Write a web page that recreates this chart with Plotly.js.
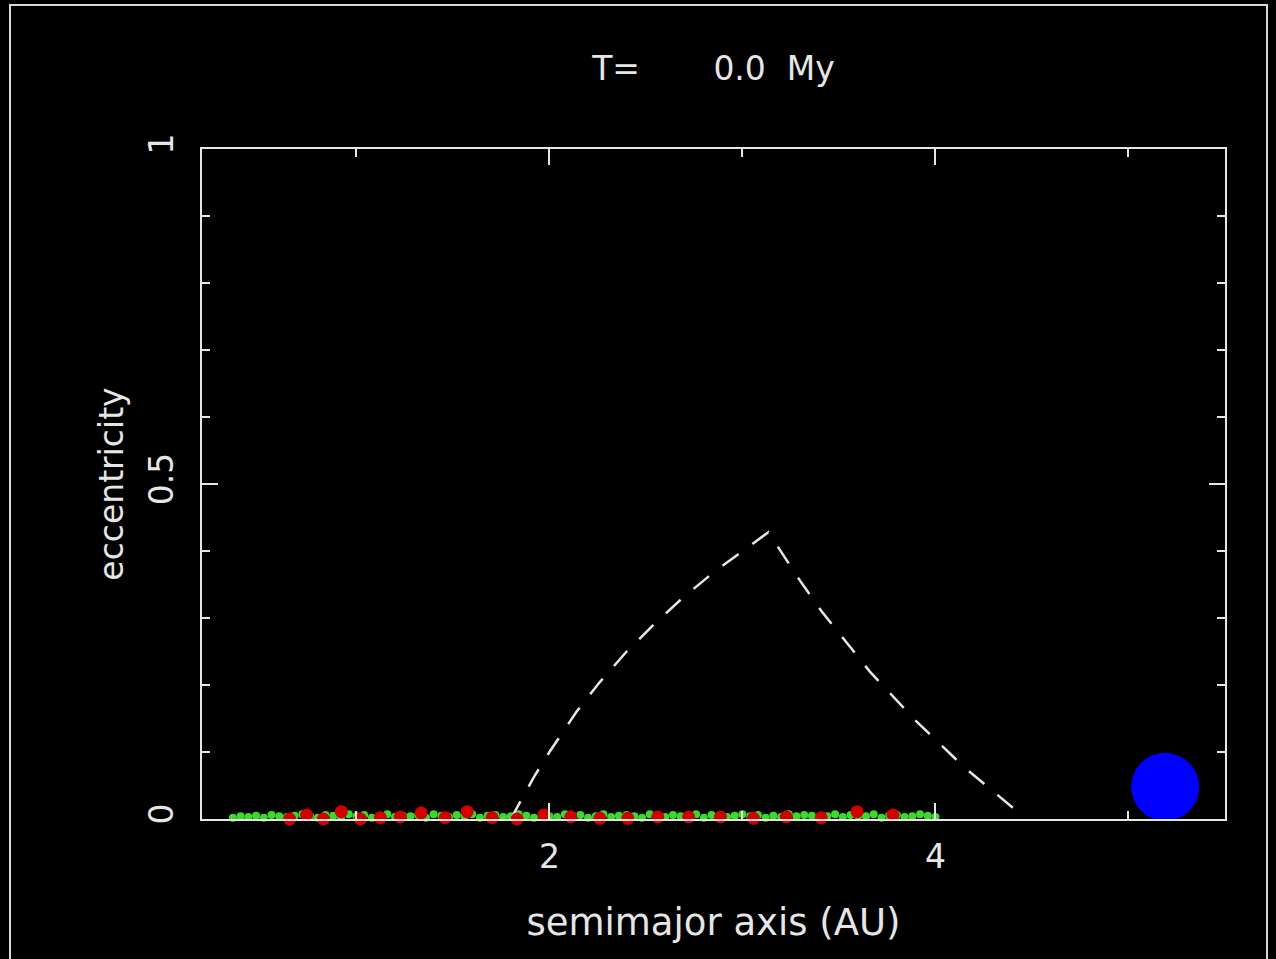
<!DOCTYPE html>
<html>
<head>
<meta charset="utf-8">
<script src="https://cdn.plot.ly/plotly-3.0.1.min.js"></script>
<style>
  html, body { margin: 0; padding: 0; background: #000; }
  #chart { width: 1276px; height: 959px; }
  #frame { position: absolute; left: 9px; top: 4px; width: 1259px; height: 970px;
           border: 2px solid #d8d8d8; pointer-events: none; box-sizing: border-box; }
</style>
</head>
<body>
<div id="chart"></div>
<div id="frame"></div>
<script>
// ---- data ----
const titleText = "T=\u00a0\u00a0\u00a0\u00a0\u00a0\u00a0\u00a00.0\u00a0\u00a0My";
const xTickVals = [2, 4];
const xTickText = ["2", "4"];
const yTickVals = [0, 0.5, 1];
const yTickText = ["0", "0.5", "1"];

// crossing-boundary curve (dashed)
const curveA = [1.80, 1.86, 1.92, 2.00, 2.07, 2.14, 2.26, 2.40, 2.54, 2.69, 2.85, 3.02, 3.134, 3.30, 3.41, 3.66, 3.90, 4.15, 4.45];
const curveE = [0.000, 0.032, 0.063, 0.100, 0.131, 0.160, 0.204, 0.250, 0.290, 0.330, 0.368, 0.404, 0.428, 0.355, 0.310, 0.220, 0.146, 0.077, 0.005];

// test particles (green)
const greenA = [0.36,0.40,0.44,0.48,0.52,0.56,0.60,0.64,0.68,0.72,0.76,0.80,0.84,0.88,0.92,0.96,1.00,1.04,1.08,1.12,
  1.16,1.20,1.24,1.28,1.32,1.36,1.40,1.44,1.48,1.52,1.56,1.60,1.64,1.68,1.72,1.76,1.80,1.84,1.88,1.92,
  1.96,2.00,2.04,2.08,2.12,2.16,2.20,2.24,2.28,2.32,2.36,2.40,2.44,2.48,2.52,2.56,2.60,2.64,2.68,2.72,
  2.76,2.80,2.84,2.88,2.92,2.96,3.00,3.04,3.08,3.12,3.16,3.20,3.24,3.28,3.32,3.36,3.40,3.44,3.48,3.52,
  3.56,3.60,3.64,3.68,3.72,3.76,3.80,3.84,3.88,3.92,3.96,4.00];
const greenE = [0.002,0.004,0.003,0.005,0.002,0.006,0.004,0.003,0.005,0.007,0.004,0.002,0.006,0.005,0.003,0.007,0.004,0.006,0.002,0.005,
  0.007,0.003,0.005,0.004,0.006,0.002,0.007,0.005,0.003,0.006,0.004,0.007,0.002,0.005,0.006,0.003,0.004,0.007,0.005,0.002,
  0.006,0.004,0.003,0.007,0.005,0.006,0.002,0.004,0.007,0.003,0.005,0.006,0.004,0.002,0.007,0.005,0.003,0.006,0.004,0.005,
  0.007,0.002,0.006,0.004,0.003,0.005,0.007,0.004,0.006,0.002,0.005,0.003,0.007,0.004,0.006,0.005,0.002,0.004,0.007,0.003,
  0.006,0.005,0.004,0.007,0.002,0.005,0.006,0.003,0.004,0.007,0.005,0.003];

// embryos (red)
const redA = [0.654,0.742,0.829,0.922,1.021,1.124,1.227,1.336,1.460,1.574,1.703,1.832,1.972,2.111,2.261,2.406,2.561,2.721,2.886,3.057,3.227,3.408,3.594,3.780];
const redE = [0.000,0.006,0.000,0.011,0.000,0.002,0.003,0.009,0.002,0.011,0.002,0.000,0.006,0.003,0.001,0.001,0.003,0.003,0.003,0.001,0.003,0.002,0.011,0.006];

// giant planet (blue)
const planetA = [5.19];
const planetE = [0.048];

// ---- traces ----
const traces = [
  { x: greenA, y: greenE, type: 'scatter', mode: 'markers', cliponaxis: false,
    marker: { symbol: 'circle', size: 8, color: '#3cd82a', line: { width: 0 } }, hoverinfo: 'skip' },
  { x: curveA, y: curveE, type: 'scatter', mode: 'lines', cliponaxis: false,
    line: { color: '#e6e6e6', width: 2.5, dash: '20px,17px', shape: 'linear' } },
  { x: redA, y: redE, type: 'scatter', mode: 'markers', cliponaxis: false,
    marker: { symbol: 'circle', size: 13, color: '#d40000', line: { width: 0 } } },
  { x: planetA, y: planetE, type: 'scatter', mode: 'markers', cliponaxis: false,
    marker: { symbol: 'circle', size: 68, color: '#0000ff', line: { width: 0 } } }
];

const fontFam = '"DejaVu Sans", "Liberation Sans", sans-serif';
const fg = '#e6e6e6';

const layout = {
  width: 1276, height: 959,
  paper_bgcolor: '#000', plot_bgcolor: '#000',
  margin: { l: 202, r: 51, t: 149, b: 140 },
  showlegend: false,
  font: { family: fontFam, color: fg, size: 32 },
  title: { text: titleText, x: 0.5, xref: 'paper', xanchor: 'center', y: 0.929, yref: 'container', yanchor: 'middle',
           font: { family: fontFam, size: 33, color: fg } },
  xaxis: {
    range: [0.2, 5.5], tickmode: 'array', tickvals: xTickVals, ticktext: xTickText,
    ticks: 'inside', ticklen: 16, tickwidth: 2, tickcolor: fg, ticklabelstandoff: 7,
    showline: true, linecolor: fg, linewidth: 2, mirror: 'allticks',
    showgrid: false, zeroline: false,
    tickfont: { size: 33, color: fg, family: fontFam },
    minor: { tickmode: 'linear', tick0: 0, dtick: 1, ticks: 'inside', ticklen: 8, tickwidth: 2, tickcolor: fg, showgrid: false },
    title: { text: 'semimajor axis (AU)', font: { size: 37, color: fg, family: fontFam }, standoff: 35 }
  },
  yaxis: {
    range: [0, 1], tickmode: 'array', tickvals: yTickVals, ticktext: yTickText, tickangle: -90,
    ticks: 'inside', ticklen: 16, tickwidth: 2, tickcolor: fg, ticklabelstandoff: 14,
    showline: true, linecolor: fg, linewidth: 2, mirror: 'allticks',
    showgrid: false, zeroline: false,
    tickfont: { size: 33, color: fg, family: fontFam },
    minor: { tickmode: 'linear', tick0: 0, dtick: 0.1, ticks: 'inside', ticklen: 8, tickwidth: 2, tickcolor: fg, showgrid: false },
    title: { text: 'eccentricity', font: { size: 33, color: fg, family: fontFam }, standoff: 8 }
  }
};

Plotly.newPlot('chart', traces, layout, { displayModeBar: false, staticPlot: true });
</script>
</body>
</html>
